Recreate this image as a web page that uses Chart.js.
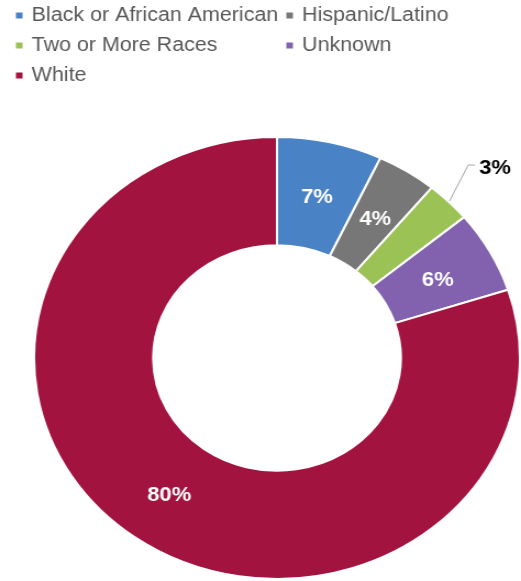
<!DOCTYPE html>
<html>
<head>
<meta charset="utf-8">
<script src="https://cdn.jsdelivr.net/npm/chart.js@4/dist/chart.umd.min.js"></script>
<style>
  html, body { margin: 0; padding: 0; background: #fff; overflow: hidden; }
  /* the whole figure is drawn slightly wider than tall */
  #wrap { position: absolute; left: 0; top: 0; width: 474px; height: 581px;
          transform: scaleX(1.0992); transform-origin: 0 0; }
</style>
</head>
<body>
<div id="wrap"><canvas id="c" width="474" height="581"></canvas></div>
<script>
const categories = ['Black or African American', 'Hispanic/Latino', 'Two or More Races', 'Unknown', 'White'];
const shares = [7, 4, 3, 6, 80];
const palette = ['#4A82C6', '#777777', '#9BC255', '#8262AE', '#A3133F'];
const outsideLabels = [2]; // slices whose label sits outside on a leader line

const FONT = '"Liberation Sans", Arial, sans-serif';

// Two-column legend above the ring
const legendGrid = {
  id: 'legendGrid',
  afterDraw(chart) {
    const ctx = chart.ctx;
    const labels = chart.data.labels;
    const colors = chart.data.datasets[0].backgroundColor;
    const colX = [14.5, 260.5];
    ctx.save();
    ctx.font = '19.5px ' + FONT;
    ctx.textAlign = 'left';
    ctx.textBaseline = 'alphabetic';
    labels.forEach((lab, i) => {
      const col = i % 2, row = Math.floor(i / 2);
      const x = colX[col], base = 21 + row * 30;
      ctx.fillStyle = colors[i];
      ctx.fillRect(x, base - 8.5, 6, 6);
      ctx.fillStyle = '#595959';
      ctx.fillText(lab, x + 14.3, base);
    });
    ctx.restore();
  }
};

// Percentage labels on each slice
const sliceLabels = {
  id: 'sliceLabels',
  afterDatasetsDraw(chart) {
    const ctx = chart.ctx;
    const meta = chart.getDatasetMeta(0);
    const vals = chart.data.datasets[0].data;
    ctx.save();
    ctx.font = 'bold 20px ' + FONT;
    meta.data.forEach((arc, i) => {
      const text = vals[i] + '%';
      if (outsideLabels.includes(i)) {
        const { x, y, startAngle, endAngle, outerRadius } =
          arc.getProps(['x', 'y', 'startAngle', 'endAngle', 'outerRadius'], true);
        const mid = (startAngle + endAngle) / 2;
        const sx = x + Math.cos(mid) * (outerRadius + 1);
        const sy = y + Math.sin(mid) * (outerRadius + 1);
        const ex = sx + 17, ey = sy - 36;
        ctx.strokeStyle = '#A6A6A6';
        ctx.lineWidth = 1;
        ctx.beginPath();
        ctx.moveTo(sx, sy);
        ctx.lineTo(ex, ey);
        ctx.lineTo(ex + 6, ey);
        ctx.stroke();
        ctx.fillStyle = '#000';
        ctx.textAlign = 'left';
        ctx.textBaseline = 'alphabetic';
        ctx.fillText(text, ex + 10, ey + 9);
      } else {
        const p = arc.tooltipPosition(true);
        ctx.fillStyle = '#fff';
        ctx.textAlign = 'center';
        ctx.textBaseline = 'middle';
        ctx.fillText(text, p.x, p.y + 2.5);
      }
    });
    ctx.restore();
  }
};

new Chart(document.getElementById('c'), {
  type: 'doughnut',
  data: {
    labels: categories,
    datasets: [{
      data: shares,
      backgroundColor: palette,
      borderColor: '#ffffff',
      borderWidth: 2
    }]
  },
  options: {
    responsive: false,
    devicePixelRatio: 1,
    animation: false,
    events: [],
    cutout: '51%',
    layout: { padding: { top: 136, bottom: 1, left: 30, right: 0 } },
    plugins: { legend: { display: false }, tooltip: { enabled: false } }
  },
  plugins: [sliceLabels, legendGrid]
});
</script>
</body>
</html>
